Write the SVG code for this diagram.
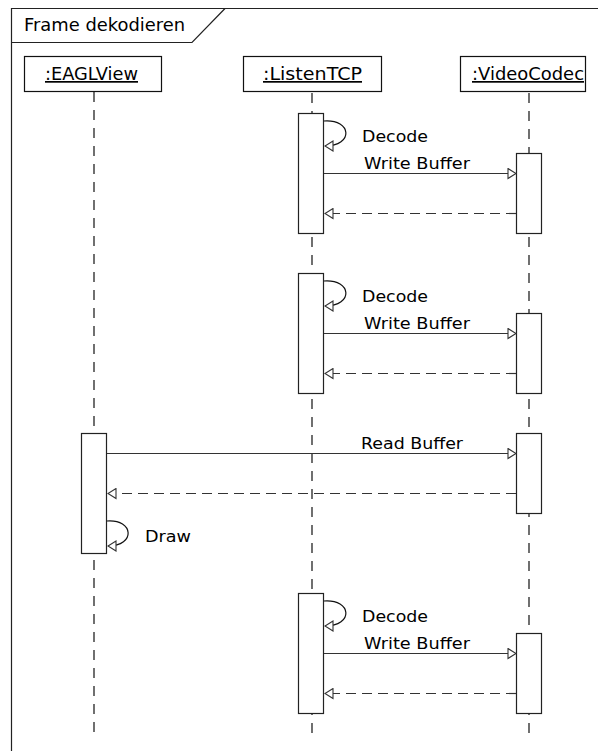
<svg xmlns="http://www.w3.org/2000/svg" width="598" height="751" viewBox="0 0 598 751">
  <defs>
    <style>
      text { font-family: "DejaVu Sans", "Liberation Sans", sans-serif; fill: #000; }
      .frame { fill: none; stroke: #222; stroke-width: 1.2; }
      .head rect { fill: #fff; stroke: #111; stroke-width: 1.2; }
      .head text { font-size: 17px; text-anchor: middle; text-decoration: underline; }
      .life { stroke: #111; stroke-width: 1.2; stroke-dasharray: 10 8; fill: none; }
      .act { fill: #fff; stroke: #222; stroke-width: 1.2; }
      .msg { stroke: #333; stroke-width: 1.2; fill: none; marker-end: url(#open); }
      .ret { stroke: #333; stroke-width: 1.2; fill: none; stroke-dasharray: 10 6; marker-end: url(#open); }
      .loop { stroke: #111; stroke-width: 1.2; fill: none; marker-end: url(#open); }
      .lbl { font-size: 16.5px; }
    </style>
    <marker id="open" viewBox="0 0 10 12" refX="9" refY="6" markerWidth="10" markerHeight="12" markerUnits="userSpaceOnUse" orient="auto">
      <path d="M1,1 L9,6 L1,11 Z" fill="#fff" stroke="#333" stroke-width="1.1"/>
    </marker>
  </defs>
  <rect width="598" height="751" fill="#fff"/>

  <!-- combined fragment frame -->
  <g id="frame">
    <path class="frame" d="M11.5,760 V8.5 H610"/>
    <path class="frame" d="M11.5,42.5 H192 L225,8.5"/>
    <text x="24" y="31" style="font-size:17px" textLength="161" lengthAdjust="spacingAndGlyphs">Frame dekodieren</text>
  </g>

  <!-- lifelines -->
  <g id="lifelines">
    <line class="life" x1="94" y1="92" x2="94" y2="735"/>
    <line class="life" x1="312" y1="93" x2="312" y2="735"/>
    <line class="life" x1="529" y1="93" x2="529" y2="735"/>
  </g>

  <!-- participant heads -->
  <g id="eaglview" class="head">
    <rect x="24.5" y="56.5" width="137" height="35"/>
    <text x="91.5" y="80" textLength="93" lengthAdjust="spacingAndGlyphs">:EAGLView</text>
  </g>
  <g id="listentcp" class="head">
    <rect x="243.5" y="56.5" width="138" height="35"/>
    <text x="312.5" y="80" textLength="99" lengthAdjust="spacingAndGlyphs">:ListenTCP</text>
  </g>
  <g id="videocodec" class="head">
    <rect x="460.5" y="56.5" width="125" height="35"/>
    <text x="528" y="80" textLength="112" lengthAdjust="spacingAndGlyphs">:VideoCodec</text>
  </g>

  <!-- activation bars -->
  <g id="activations">
    <rect class="act" x="298.5" y="113.5" width="25" height="120"/>
    <rect class="act" x="516.5" y="153.5" width="25" height="80"/>
    <rect class="act" x="298.5" y="273.5" width="25" height="120"/>
    <rect class="act" x="516.5" y="313.5" width="25" height="80"/>
    <rect class="act" x="81.5" y="433.5" width="25" height="120"/>
    <rect class="act" x="516.5" y="433.5" width="25" height="80"/>
    <rect class="act" x="298.5" y="593.5" width="25" height="120"/>
    <rect class="act" x="516.5" y="633.5" width="25" height="80"/>
  </g>

  <!-- messages -->
  <g id="connectors">
    <path class="loop" d="M324,121 C352,119 354,146 325,146"/>
    <line class="msg" x1="324" y1="173.5" x2="516" y2="173.5"/>
    <line class="ret" x1="516" y1="213.5" x2="325" y2="213.5"/>

    <path class="loop" d="M324,281 C352,279 354,306 325,306"/>
    <line class="msg" x1="324" y1="333.5" x2="516" y2="333.5"/>
    <line class="ret" x1="516" y1="373.5" x2="325" y2="373.5"/>

    <line class="msg" x1="107" y1="453.5" x2="516" y2="453.5"/>
    <line class="ret" x1="516" y1="493.5" x2="108" y2="493.5"/>
    <path class="loop" d="M107,521 C134,519 136,546 108,546"/>

    <path class="loop" d="M324,601 C352,599 354,626 325,626"/>
    <line class="msg" x1="324" y1="653.5" x2="516" y2="653.5"/>
    <line class="ret" x1="516" y1="693.5" x2="325" y2="693.5"/>
  </g>

  <!-- message labels -->
  <g id="labels" class="lbl">
    <text x="362" y="142" textLength="66" lengthAdjust="spacingAndGlyphs">Decode</text>
    <text x="364" y="169" textLength="106" lengthAdjust="spacingAndGlyphs">Write Buffer</text>
    <text x="362" y="302" textLength="66" lengthAdjust="spacingAndGlyphs">Decode</text>
    <text x="364" y="329" textLength="106" lengthAdjust="spacingAndGlyphs">Write Buffer</text>
    <text x="361" y="449" textLength="102" lengthAdjust="spacingAndGlyphs">Read Buffer</text>
    <text x="145" y="542" textLength="46" lengthAdjust="spacingAndGlyphs">Draw</text>
    <text x="362" y="622" textLength="66" lengthAdjust="spacingAndGlyphs">Decode</text>
    <text x="364" y="649" textLength="106" lengthAdjust="spacingAndGlyphs">Write Buffer</text>
  </g>
</svg>
